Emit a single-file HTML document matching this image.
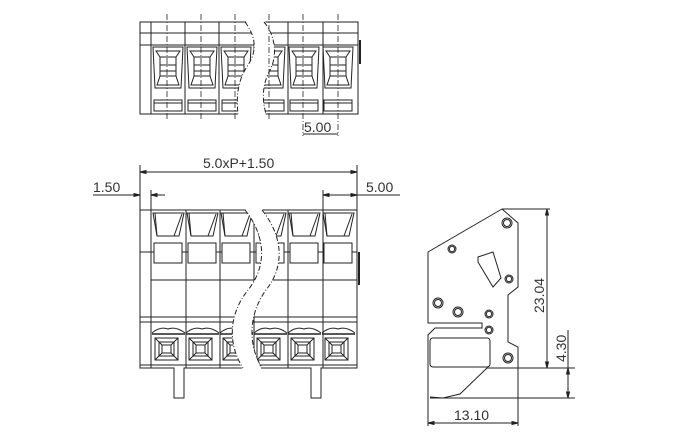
<!DOCTYPE html>
<html><head><style>body{margin:0;background:#fff}svg{display:block}text{font-family:"Liberation Sans",sans-serif;fill:#333}</style></head><body>
<svg width="680" height="440" viewBox="0 0 680 440" fill="none" stroke="#222" stroke-width="1">
<!-- TOP VIEW -->
<g>
<rect x="140" y="22" width="218" height="92"/>
<line x1="140" y1="33" x2="358" y2="33"/>
<line x1="140" y1="45" x2="358" y2="45"/>
<line x1="151" y1="22" x2="151" y2="114"/>
<line x1="185" y1="22" x2="185" y2="114"/>
<line x1="219" y1="22" x2="219" y2="114"/>
<line x1="254" y1="22" x2="254" y2="114"/>
<line x1="288" y1="22" x2="288" y2="114"/>
<line x1="323" y1="22" x2="323" y2="114"/>
<line x1="360" y1="40" x2="360" y2="64" stroke-width="2"/>
<g id="tc">
<path d="M153 47 H183 L181 88 H155 Z"/>
<path d="M156 51 H180 L176 57 V76 L179 85 H157 L160 76 V57 Z"/>
<line x1="160" y1="57" x2="176" y2="57"/><line x1="160" y1="65" x2="176" y2="65"/><line x1="160" y1="71" x2="176" y2="71"/><line x1="160" y1="76" x2="176" y2="76"/>
<rect x="154" y="100" width="28" height="11"/><line x1="154" y1="103" x2="182" y2="103"/>
</g>
<use href="#tc" x="34"/><use href="#tc" x="68"/><use href="#tc" x="102"/><use href="#tc" x="136"/><use href="#tc" x="170"/>
<path d="M245 20 C255 35 258 50 248 65 C238 80 236 95 238 116 L266 116 C262 100 262 85 270 70 C278 55 275 35 264 20 Z" fill="#fff" stroke="none"/>
<path d="M245 22 C255 35 258 50 248 65 C238 80 236 95 238 114" stroke-dasharray="5 2 1 2"/>
<path d="M264 22 C275 35 278 55 270 70 C262 85 262 100 266 114" stroke-dasharray="5 2 1 2"/>
<g stroke-dasharray="6 2 1 2" stroke-width="0.8">
<line x1="167" y1="14" x2="167" y2="120"/><line x1="201" y1="14" x2="201" y2="120"/><line x1="235" y1="14" x2="235" y2="120"/><line x1="269" y1="14" x2="269" y2="120"/><line x1="303" y1="14" x2="303" y2="136"/><line x1="338" y1="14" x2="338" y2="136"/>
</g>
<line x1="303" y1="134" x2="338" y2="134"/>
</g>
<text x="304" y="132" font-size="14" stroke="none">5.00</text>

<!-- FRONT VIEW -->
<g>
<line x1="140" y1="165" x2="140" y2="210"/><line x1="357" y1="165" x2="357" y2="210"/>
<line x1="140" y1="172" x2="357" y2="172"/>
<path d="M140 172 l6 -1.5 v3 Z M357 172 l-6 -1.5 v3 Z" fill="#222"/>
<line x1="93" y1="195" x2="140" y2="195"/><line x1="151" y1="195" x2="165" y2="195"/><line x1="151" y1="190" x2="151" y2="210"/>
<path d="M140 195 l-6 -1.5 v3 Z M151 195 l6 -1.5 v3 Z" fill="#222"/>
<line x1="323" y1="195" x2="400" y2="195"/><line x1="323" y1="190" x2="323" y2="210"/>
<path d="M323 195 l6 -1.5 v3 Z M357 195 l-6 -1.5 v3 Z" fill="#222"/>
<path d="M140 210 H357 V368 H321 V398 H311 V368 H184 V398 H174 V368 H140 Z"/>
<line x1="151" y1="210" x2="151" y2="368"/>
<line x1="186" y1="210" x2="186" y2="368"/><line x1="220" y1="210" x2="220" y2="368"/><line x1="254" y1="210" x2="254" y2="368"/><line x1="288" y1="210" x2="288" y2="368"/><line x1="323" y1="210" x2="323" y2="368"/>
<line x1="140" y1="252" x2="357" y2="252"/>
<line x1="151" y1="280" x2="357" y2="280"/>
<line x1="140" y1="317" x2="357" y2="317"/>
<line x1="140" y1="322" x2="357" y2="322"/>
<line x1="140" y1="365" x2="357" y2="365"/>
<line x1="359" y1="252" x2="359" y2="285" stroke-width="2"/>
<g id="fc">
<path d="M153 213 H184 L179 236 H157 Z"/><line x1="155" y1="213" x2="157" y2="236"/><line x1="174" y1="236" x2="182" y2="214"/>
<rect x="154" y="243" width="28" height="20" fill="#fff"/>
<path d="M152 333 Q160 326 168 329 Q176 326 185 333" />
<line x1="152" y1="334" x2="185" y2="334" stroke-width="1.5"/>
<rect x="155" y="338" width="23" height="22"/><rect x="159" y="342" width="15" height="14"/><rect x="162" y="345" width="9" height="8"/>
<line x1="155" y1="338" x2="162" y2="345"/><line x1="178" y1="338" x2="171" y2="345"/><line x1="155" y1="360" x2="162" y2="353"/><line x1="178" y1="360" x2="171" y2="353"/>
</g>
<use href="#fc" x="34"/><use href="#fc" x="68"/><use href="#fc" x="102"/><use href="#fc" x="136"/><use href="#fc" x="170"/>
<path d="M245 209 C265 235 268 265 248 290 C228 315 228 345 243 370 L262 370 C248 345 248 315 266 290 C286 265 282 235 262 209 Z" fill="#fff" stroke="none"/>
<path d="M245 210 C265 235 268 265 248 290 C228 315 228 345 243 368" stroke-dasharray="5 2 1 2"/>
<path d="M262 210 C282 235 286 265 266 290 C248 315 248 345 262 368" stroke-dasharray="5 2 1 2"/>
</g>
<text x="203" y="168" font-size="14" stroke="none">5.0xP+1.50</text>
<text x="93" y="192" font-size="14" stroke="none">1.50</text>
<text x="366" y="192" font-size="14" stroke="none">5.00</text>

<!-- SIDE VIEW -->
<g>
<path d="M502 209 L518 223 V287 L508 295 V342 L518 347 V368 H487 L460 394 L443 398 L430 397 M428 397 V335 L435 328 H482 V323 H428 V252 L502 209"/>
<rect x="430" y="338" width="60" height="29" rx="3"/>
<path d="M478 257 L493 252 L501 278 L493 287 L478 262 Z"/>
<circle cx="507" cy="223" r="5"/><circle cx="507" cy="223" r="3.5"/>
<circle cx="452" cy="249" r="4"/><circle cx="452" cy="249" r="2.7"/>
<circle cx="509" cy="279" r="4"/><circle cx="509" cy="279" r="2.7"/>
<circle cx="438" cy="303" r="5"/><circle cx="438" cy="303" r="3.5"/>
<circle cx="458" cy="312" r="5"/><circle cx="458" cy="312" r="3.5"/>
<circle cx="489" cy="314" r="4"/><circle cx="489" cy="314" r="2.7"/>
<circle cx="489" cy="330" r="4"/><circle cx="489" cy="330" r="2.7"/>
<circle cx="508" cy="358" r="5"/><circle cx="508" cy="358" r="3.5"/>
<line x1="502" y1="209" x2="550" y2="209"/>
<line x1="547" y1="209" x2="547" y2="368"/>
<path d="M547 209 l-1.5 6 h3 Z M547 368 l-1.5 -6 h3 Z" fill="#222"/>
<line x1="518" y1="368" x2="575" y2="368"/>
<line x1="430" y1="398" x2="575" y2="398"/>
<line x1="568" y1="330" x2="568" y2="398"/>
<path d="M568 368 l-1.5 6 h3 Z M568 398 l-1.5 -6 h3 Z" fill="#222"/>
<line x1="428" y1="397" x2="428" y2="426"/><line x1="518" y1="368" x2="518" y2="426"/>
<line x1="428" y1="423" x2="518" y2="423"/>
<path d="M428 423 l6 -1.5 v3 Z M518 423 l-6 -1.5 v3 Z" fill="#222"/>
</g>
<text transform="translate(544,313) rotate(-90)" font-size="14" stroke="none">23.04</text>
<text transform="translate(566,362) rotate(-90)" font-size="14" stroke="none">4.30</text>
<text x="454" y="420" font-size="14" stroke="none">13.10</text>
</svg>
</body></html>
